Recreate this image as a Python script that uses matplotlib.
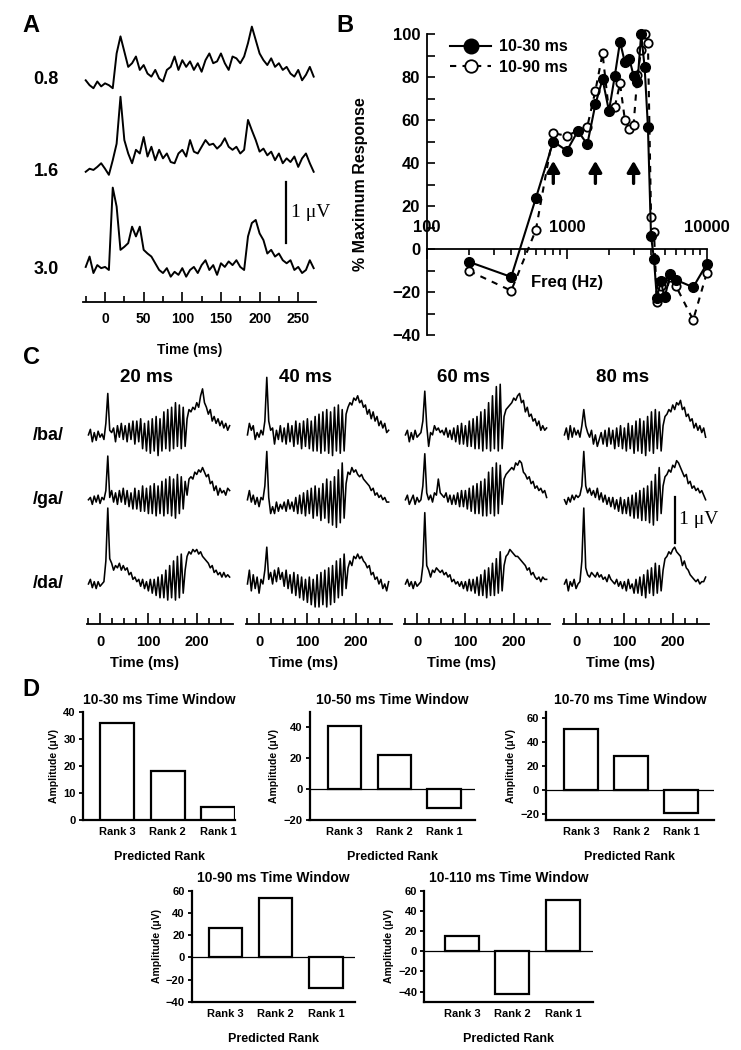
import numpy as np
import matplotlib
matplotlib.use("Agg")
import matplotlib.pyplot as plt
from matplotlib.ticker import MultipleLocator, FixedLocator
from matplotlib.transforms import blended_transform_factory

plt.rcParams['font.family'] = ['Liberation Sans', 'DejaVu Sans']
plt.rcParams['font.weight'] = 'bold'
plt.rcParams['axes.linewidth'] = 1.3

# ---------------- DATA ----------------
# Panel A: averaged responses (uV), 5 ms samples starting at -25 ms
A_T0, A_DT = -25, 5
A_labels = ["0.8", "1.6", "3.0"]
a08 = [0.05, -0.03, -0.08, 0.03, -0.05, 0.0, -0.03, -0.08, 0.49, 0.77,
       0.52, 0.27, 0.33, 0.44, 0.22, 0.30, 0.16, 0.11, 0.22, 0.08,
       0.03, 0.22, 0.27, 0.44, 0.22, 0.38, 0.27, 0.36, 0.22, 0.33,
       0.19, 0.38, 0.49, 0.33, 0.36, 0.49, 0.33, 0.22, 0.44, 0.41,
       0.33, 0.44, 0.66, 0.93, 0.71, 0.49, 0.38, 0.30, 0.41, 0.27,
       0.33, 0.22, 0.27, 0.16, 0.11, 0.22, 0.05, 0.14, 0.27, 0.11]
a16 = [0.0, 0.05, 0.03, 0.08, 0.14, 0.05, -0.05, 0.19, 0.46, 1.23,
       0.52, 0.30, 0.14, 0.36, 0.30, 0.57, 0.25, 0.41, 0.19, 0.36,
       0.22, 0.30, 0.16, 0.14, 0.30, 0.36, 0.25, 0.52, 0.33, 0.30,
       0.41, 0.52, 0.44, 0.46, 0.38, 0.44, 0.55, 0.41, 0.36, 0.41,
       0.30, 0.36, 0.85, 0.68, 0.52, 0.33, 0.38, 0.27, 0.33, 0.19,
       0.30, 0.14, 0.22, 0.16, 0.25, 0.08, 0.22, 0.30, 0.14, 0.0]
a30 = [0.05, 0.22, -0.05, 0.08, 0.03, 0.05, 0.0, 1.35, 1.04, 0.33,
       0.38, 0.44, 0.71, 0.55, 0.71, 0.33, 0.27, 0.22, 0.11, 0.0,
       -0.05, 0.03, -0.11, -0.03, -0.08, 0.03, -0.11, 0.0, 0.05, -0.05,
       0.08, 0.16, 0.0, 0.08, -0.08, 0.11, 0.05, 0.14, 0.08, 0.16,
       0.05, 0.0, 0.55, 0.77, 0.82, 0.60, 0.49, 0.27, 0.33, 0.22,
       0.27, 0.16, 0.11, 0.16, 0.0, 0.05, -0.05, 0.0, 0.16, 0.03]

# Panel B: frequency tuning
freq_hz = [200, 400, 600, 800, 1000, 1200, 1400, 1600, 1800, 2000, 2200, 2400,
           2600, 2800, 3000, 3200, 3400, 3600, 3800, 4000, 4200, 4400, 4700,
           5000, 5500, 6000, 8000, 10000]
resp_10_30 = [-6, -13, 23.6, 50, 45.7, 54.9, 48.7, 67.3, 79, 64.2, 80.3, 96.4,
              86.8, 88.4, 80.6, 77.5, 100, 84.5, 56.7, 6, -4.8, -22.8, -15,
              -22.5, -11.7, -14.3, -17.8, -7]
resp_10_90 = [-10.2, -19.4, 8.8, 53.8, 52.7, 55, 56.9, 73.6, 91, 64, 66, 77,
              60, 56, 57.8, 81, 92.6, 100, 96, 15, 7.7, -24.5, -17, -22,
              -13, -17, -33, -11.3]
arrow_freqs = [800, 1600, 3000]

# Panel C: responses to /ba/ /ga/ /da/ (uV), 4 ms samples starting at -24 ms
C_T0, C_DT = -24, 4
C_titles = ["20 ms", "40 ms", "60 ms", "80 ms"]
C_rows = ["/ba/", "/ga/", "/da/"]
c1_ba = [0.0, 0.12, -0.15, 0.05, -0.12, 0.08, -0.05, 0.02, -0.1, 0.25,
         0.9, 0.1, 0.05, 0.15, -0.15, 0.2, -0.05, 0.25, -0.1, 0.2,
         -0.15, 0.25, -0.1, 0.3, -0.2, 0.3, -0.15, 0.35, -0.3, 0.25,
         -0.35, 0.3, -0.4, 0.35, -0.35, 0.4, -0.45, 0.35, -0.35, 0.5,
         -0.3, 0.55, -0.35, 0.6, -0.3, 0.7, -0.25, 0.65, -0.3, 0.6,
         -0.25, 0.35, 0.55, 0.5, 0.6, 0.55, 0.7, 0.6, 0.85, 1.0,
         0.7, 0.6, 0.45, 0.55, 0.3, 0.4, 0.25, 0.35, 0.2, 0.3,
         0.15, 0.25, 0.1, 0.2]
c1_ga = [0.0, 0.05, -0.1, 0.08, -0.05, 0.1, -0.08, 0.05, 0.0, 0.2,
         0.95, 0.05, 0.2, -0.05, 0.15, -0.1, 0.2, -0.05, 0.25, -0.1,
         0.2, -0.15, 0.15, -0.2, 0.25, -0.2, 0.2, -0.25, 0.3, -0.25,
         0.25, -0.3, 0.3, -0.3, 0.35, -0.35, 0.3, -0.3, 0.4, -0.35,
         0.45, -0.3, 0.5, -0.35, 0.45, -0.4, 0.55, -0.3, 0.5, -0.2,
         0.4, 0.1, 0.45, 0.5, 0.45, 0.6, 0.55, 0.65, 0.6, 0.7,
         0.6, 0.5, 0.55, 0.35, 0.4, 0.2, 0.3, 0.1, 0.25, 0.15,
         0.2, 0.1, 0.25, 0.2]
c1_da = [0.0, 0.1, -0.08, 0.05, -0.1, 0.05, -0.05, 0.0, 0.05, 0.5,
         1.65, 0.55, 0.45, 0.3, 0.4, 0.35, 0.45, 0.3, 0.4, 0.3,
         0.35, 0.2, 0.25, 0.1, 0.15, 0.05, 0.1, -0.05, 0.1, -0.1,
         0.05, -0.15, 0.1, -0.2, 0.1, -0.25, 0.15, -0.3, 0.2, -0.3,
         0.3, -0.35, 0.4, -0.3, 0.5, -0.35, 0.6, -0.3, 0.65, -0.2,
         0.3, 0.6, 0.7, 0.65, 0.75, 0.7, 0.75, 0.65, 0.7, 0.6,
         0.55, 0.5, 0.45, 0.35, 0.4, 0.25, 0.3, 0.2, 0.25, 0.15,
         0.25, 0.15, 0.2, 0.15]
c2_ba = [0.0, 0.25, 0.1, 0.2, -0.1, 0.05, -0.05, 0.1, 0.0, 0.3,
         1.25, 0.3, 0.1, 0.15, -0.2, 0.1, -0.1, 0.2, -0.15, 0.15,
         -0.2, 0.25, -0.15, 0.2, -0.25, 0.3, -0.2, 0.25, -0.3, 0.3,
         -0.25, 0.35, -0.3, 0.3, -0.35, 0.4, -0.35, 0.45, -0.4, 0.5,
         -0.35, 0.55, -0.4, 0.5, -0.45, 0.6, -0.35, 0.65, -0.4, 0.55,
         -0.35, 0.45, 0.6, 0.7, 0.65, 0.8, 0.75, 0.85, 0.7, 0.75,
         0.6, 0.65, 0.45, 0.55, 0.35, 0.5, 0.3, 0.4, 0.2, 0.3,
         0.15, 0.25, 0.05, 0.1]
c2_ga = [0.0, 0.2, -0.05, 0.1, -0.1, 0.05, -0.15, 0.05, 0.0, 0.3,
         1.05, 0.05, -0.3, -0.15, -0.3, -0.05, -0.25, -0.1, -0.2, -0.05,
         -0.25, 0.0, -0.2, -0.05, -0.25, 0.05, -0.3, 0.1, -0.3, 0.15,
         -0.35, 0.2, -0.3, 0.25, -0.4, 0.3, -0.35, 0.25, -0.45, 0.35,
         -0.4, 0.45, -0.5, 0.4, -0.55, 0.5, -0.6, 0.65, -0.5, 0.8,
         -0.4, 0.35, 0.6, 0.55, 0.7, 0.6, 0.65, 0.55, 0.5, 0.55,
         0.45, 0.4, 0.35, 0.3, 0.2, 0.25, 0.1, 0.15, 0.05, 0.1,
         0.0, 0.05, -0.05, -0.05]
c2_da = [0.0, 0.3, -0.15, 0.2, -0.1, 0.15, -0.2, 0.1, 0.0, 0.3,
         0.8, 0.1, 0.25, 0.0, 0.3, 0.05, 0.35, 0.1, 0.25, -0.05,
         0.3, -0.1, 0.2, -0.2, 0.25, -0.25, 0.2, -0.3, 0.15, -0.35,
         0.1, -0.4, 0.15, -0.45, 0.1, -0.5, 0.2, -0.5, 0.25, -0.45,
         0.3, -0.5, 0.35, -0.45, 0.4, -0.4, 0.5, -0.3, 0.55, -0.25,
         0.65, -0.1, 0.35, 0.5, 0.4, 0.6, 0.55, 0.65, 0.55, 0.6,
         0.5, 0.45, 0.35, 0.4, 0.2, 0.25, 0.1, 0.15, 0.0, 0.1,
         -0.1, 0.0, -0.15, 0.05]
c3_ba = [0.0, 0.1, -0.15, 0.05, -0.1, 0.1, -0.05, 0.0, 0.05, 0.3,
         0.95, 0.2, -0.25, 0.05, 0.0, 0.2, 0.1, 0.15, 0.05, 0.1,
         0.0, 0.15, -0.05, 0.1, -0.1, 0.15, -0.15, 0.2, -0.2, 0.25,
         -0.2, 0.2, -0.25, 0.3, -0.25, 0.35, -0.3, 0.4, -0.3, 0.5,
         -0.35, 0.55, -0.3, 0.7, -0.35, 0.85, -0.3, 1.05, -0.35, 1.1,
         -0.3, 0.4, 0.55, 0.6, 0.65, 0.7, 0.8, 0.75, 0.85, 0.9,
         0.7, 0.75, 0.5, 0.6, 0.4, 0.45, 0.3, 0.35, 0.2, 0.3,
         0.1, 0.2, 0.1, 0.15]
c3_ga = [0.0, 0.1, -0.1, 0.0, 0.1, -0.1, 0.05, -0.05, 0.0, 0.3,
         1.0, 0.15, 0.0, 0.1, -0.05, 0.15, 0.1, 0.45, 0.15, 0.1,
         0.05, 0.15, -0.05, 0.1, -0.1, 0.1, -0.1, 0.15, -0.15, 0.2,
         -0.15, 0.2, -0.2, 0.25, -0.25, 0.3, -0.3, 0.35, -0.3, 0.4,
         -0.35, 0.45, -0.35, 0.6, -0.3, 0.7, -0.35, 0.8, -0.3, 0.75,
         -0.1, 0.45, 0.55, 0.6, 0.65, 0.7, 0.65, 0.8, 0.75, 0.85,
         0.8, 0.6, 0.55, 0.45, 0.5, 0.35, 0.4, 0.25, 0.3, 0.2,
         0.25, 0.15, 0.2, 0.05]
c3_da = [0.0, 0.1, -0.05, 0.05, -0.1, 0.05, -0.05, 0.0, 0.05, 0.4,
         1.55, 0.4, 0.3, 0.15, 0.3, 0.25, 0.35, 0.3, 0.25, 0.3,
         0.2, 0.25, 0.15, 0.2, 0.05, 0.1, 0.0, 0.05, -0.05, 0.05,
         -0.1, 0.05, -0.15, 0.1, -0.15, 0.1, -0.2, 0.15, -0.25, 0.2,
         -0.25, 0.3, -0.3, 0.35, -0.25, 0.45, -0.25, 0.55, -0.2, 0.7,
         -0.15, 0.4, 0.6, 0.65, 0.75, 0.7, 0.65, 0.6, 0.6, 0.55,
         0.5, 0.45, 0.4, 0.3, 0.35, 0.2, 0.25, 0.15, 0.1, 0.15,
         0.05, 0.15, 0.1, 0.1]
c4_ba = [0.0, 0.15, -0.1, 0.2, -0.05, 0.15, 0.0, 0.1, -0.05, 0.2,
         0.55, 0.2, 0.05, -0.05, 0.1, -0.2, 0.0, -0.25, -0.1, 0.05,
         -0.2, 0.1, -0.25, 0.15, -0.2, 0.1, -0.3, 0.15, -0.25, 0.2,
         -0.3, 0.15, -0.35, 0.25, -0.3, 0.2, -0.4, 0.3, -0.35, 0.35,
         -0.4, 0.3, -0.45, 0.4, -0.35, 0.5, -0.4, 0.55, -0.3, 0.5,
         -0.35, 0.2, 0.4, 0.45, 0.55, 0.5, 0.65, 0.55, 0.7, 0.65,
         0.75, 0.55, 0.6, 0.4, 0.45, 0.3, 0.35, 0.15, 0.25, 0.1,
         0.2, 0.05, 0.15, -0.05]
c4_ga = [0.0, -0.1, 0.05, -0.05, 0.1, 0.0, 0.1, 0.05, 0.1, 0.3,
         1.05, 0.3, 0.15, 0.25, 0.1, 0.2, 0.05, 0.25, 0.0, 0.15,
         -0.05, 0.1, -0.1, 0.05, -0.15, 0.05, -0.2, 0.0, -0.25, 0.05,
         -0.3, 0.0, -0.3, 0.05, -0.35, 0.1, -0.4, 0.15, -0.4, 0.2,
         -0.45, 0.25, -0.45, 0.3, -0.5, 0.4, -0.55, 0.55, -0.45, 0.7,
         -0.3, 0.3, 0.5, 0.55, 0.65, 0.6, 0.75, 0.7, 0.85, 0.8,
         0.7, 0.6, 0.5, 0.55, 0.35, 0.4, 0.25, 0.3, 0.2, 0.25,
         0.15, 0.2, 0.1, 0.0]
c4_da = [0.0, 0.1, -0.15, 0.05, -0.05, 0.1, -0.1, 0.0, 0.05, 0.5,
         1.65, 0.35, 0.2, 0.15, 0.25, 0.2, 0.15, 0.25, 0.15, 0.2,
         0.1, 0.15, 0.05, 0.2, 0.1, 0.05, 0.0, 0.1, -0.05, 0.05,
         -0.1, 0.05, -0.15, 0.1, -0.1, 0.0, -0.2, 0.1, -0.2, 0.15,
         -0.25, 0.2, -0.3, 0.3, -0.2, 0.35, -0.25, 0.45, -0.2, 0.4,
         -0.15, 0.3, 0.55, 0.6, 0.7, 0.65, 0.75, 0.8, 0.7, 0.65,
         0.6, 0.4, 0.5, 0.35, 0.3, 0.2, 0.15, 0.1, 0.05, 0.1,
         0.0, 0.05, 0.05, 0.15]
C_traces = [[c1_ba, c1_ga, c1_da], [c2_ba, c2_ga, c2_da],
            [c3_ba, c3_ga, c3_da], [c4_ba, c4_ga, c4_da]]

# Panel D: amplitude by predicted rank
D_categories = ["Rank 3", "Rank 2", "Rank 1"]
D_titles = ["10-30 ms Time Window", "10-50 ms Time Window", "10-70 ms Time Window",
            "10-90 ms Time Window", "10-110 ms Time Window"]
d_10_30 = [36, 18, 5]
d_10_50 = [41, 22, -12]
d_10_70 = [51, 28, -19]
d_10_90 = [26, 53, -28]
d_10_110 = [15, -42, 51]

# ---------------- FIGURE ----------------
W, H = 741, 1050
fig = plt.figure(figsize=(W / 100, H / 100), dpi=100)


def rect(x0, y0, x1, y1):
    return [x0 / W, 1 - y1 / H, (x1 - x0) / W, (y1 - y0) / H]


def ftext(x, y, s, **kw):
    fig.text(x / W, 1 - y / H, s, **kw)


SERIF = ['Liberation Serif', 'DejaVu Serif']

# ---- Panel A ----
axA = fig.add_axes(rect(83, 19.3, 316, 302))
A_offsets = [0.0, -1.45, -3.06]
for vals, off in zip([a08, a16, a30], A_offsets):
    t = A_T0 + A_DT * np.arange(len(vals))
    axA.plot(t, np.array(vals) + off, color='k', lw=1.4)
axA.set_xlim(-28.5, 273)
axA.set_ylim(-3.585, 1.05)
for s in ['left', 'right', 'top']:
    axA.spines[s].set_visible(False)
axA.set_yticks([])
axA.xaxis.set_major_locator(FixedLocator([0, 50, 100, 150, 200, 250]))
axA.xaxis.set_minor_locator(FixedLocator([-25, 25, 75, 125, 175, 225]))
axA.tick_params(axis='x', which='major', direction='in', length=7, width=1.2,
                labelsize=10, pad=7)
axA.tick_params(axis='x', which='minor', direction='in', length=4, width=1.2)
for lab in axA.get_xticklabels():
    lab.set_fontweight('bold')
axA.plot([234, 234], [-1.62, -2.62], color='k', lw=1.6)
axA.text(241, -2.12, "1 μV", family=SERIF, fontweight='normal', fontsize=14,
         va='center', ha='left')
ftext(190, 350, "Time (ms)", ha='center', va='center', fontsize=10)
for lab, yy in zip(A_labels, [79, 172, 269]):
    ftext(46, yy, lab, ha='center', va='center', fontsize=13)
ftext(31, 25, "A", ha='center', va='center', fontsize=17)

# ---- Panel B ----
axB = fig.add_axes(rect(427, 34, 706.7, 335))
axB.set_xscale('log')
axB.set_xlim(100, 10000)
axB.set_ylim(-40, 100)
l1, = axB.plot(freq_hz, resp_10_30, '-o', color='k', mfc='k', mec='k', ms=7,
               lw=1.5, clip_on=False, zorder=4, label='10-30 ms')
l2, = axB.plot(freq_hz, resp_10_90, '--o', color='k', mfc='white', mec='k', ms=6,
               mew=1.3, lw=1.5, dashes=(3, 3), clip_on=False, zorder=3,
               label='10-90 ms')
axB.spines['right'].set_visible(False)
axB.spines['top'].set_visible(False)
axB.spines['bottom'].set_position(('data', 0))
axB.yaxis.set_major_locator(MultipleLocator(20))
axB.yaxis.set_minor_locator(MultipleLocator(10))
axB.tick_params(axis='y', which='both', direction='in', length=6, width=1.2,
                labelsize=12, pad=5)
axB.tick_params(axis='x', which='major', direction='out', length=7, width=1.2,
                labelbottom=False)
axB.tick_params(axis='x', which='minor', direction='out', length=4, width=1.2,
                labelbottom=False)
for lab in axB.get_yticklabels():
    lab.set_fontweight('bold')
for xv in [100, 1000, 10000]:
    axB.text(xv, 9.8, str(xv), ha='center', va='center', fontsize=12)
axB.text(1000, -15.7, "Freq (Hz)", ha='center', va='center', fontsize=12)
for fa in arrow_freqs:
    axB.annotate('', xy=(fa, 41), xytext=(fa, 30.5),
                 arrowprops=dict(arrowstyle='-|>,head_length=0.6,head_width=0.35',
                                 color='k', lw=2.4, mutation_scale=11,
                                 shrinkA=0, shrinkB=0))
leg = axB.legend(handles=[l1, l2], loc='upper left', bbox_to_anchor=(0.03, 1.03),
                 frameon=False, fontsize=11.5, markerscale=1.5,
                 handlelength=2.6, handletextpad=0.5, labelspacing=0.35)
for txt in leg.get_texts():
    txt.set_fontweight('bold')
ftext(360, 184, "% Maximum Response", rotation=90, ha='center', va='center',
      fontsize=11.5)
ftext(345, 25, "B", ha='center', va='center', fontsize=17)

# ---- Panel C ----
C_lefts = [87, 246, 404, 563]
C_offsets = [0.0, -1.41, -3.24]
for ci, (x0, title, traces) in enumerate(zip(C_lefts, C_titles, C_traces)):
    ax = fig.add_axes(rect(x0, 370, x0 + 146, 624))
    for vals, off in zip(traces, C_offsets):
        t = C_T0 + C_DT * np.arange(len(vals))
        ax.plot(t, np.array(vals) + off, color='k', lw=1.15)
    ax.set_xlim(-27, 275)
    ax.set_ylim(-4.11, 1.41)
    for s in ['left', 'right', 'top']:
        ax.spines[s].set_visible(False)
    ax.set_yticks([])
    ax.xaxis.set_major_locator(FixedLocator([0, 100, 200]))
    ax.xaxis.set_minor_locator(FixedLocator([-25, 25, 50, 75, 125, 150, 175, 225, 250]))
    ax.tick_params(axis='x', which='major', direction='in', length=8, width=1.2,
                   labelsize=10.5, pad=8)
    ax.tick_params(axis='x', which='minor', direction='in', length=4, width=1.2)
    for lab in ax.get_xticklabels():
        lab.set_fontweight('bold')
    tr = blended_transform_factory(ax.transData, fig.transFigure)
    ax.text(92, 1 - 663 / H, "Time (ms)", transform=tr, ha='center', va='center',
            fontsize=10.5)
    ax.text(97, 1 - 378 / H, title, transform=tr, ha='center', va='center',
            fontsize=13.5)
    if ci == 3:
        ax.plot([204, 204], [-1.34, -2.34], color='k', lw=1.6, clip_on=False)
        ax.text(213, -1.84, "1 μV", family=SERIF, fontweight='normal',
                fontsize=14, va='center', ha='left', clip_on=False)
for lab, yy in zip(C_rows, [435, 500, 583]):
    ftext(48, yy, lab, ha='center', va='center', fontsize=13)
ftext(31, 357, "C", ha='center', va='center', fontsize=17)

# ---- Panel D ----
D_specs = [
    (d_10_30, (82.7, 712, 235.3, 820), (0, 40), [0, 10, 20, 30, 40], (-0.68, 2.34)),
    (d_10_50, (309.5, 712, 475, 820), (-20, 50), [-20, 0, 20, 40], (-0.70, 2.62)),
    (d_10_70, (546, 712, 713.6, 820), (-25, 65), [-20, 0, 20, 40, 60], (-0.70, 2.65)),
    (d_10_90, (191.7, 890.7, 355, 1001.7), (-40, 60), [-40, -20, 0, 20, 40, 60], (-0.67, 2.58)),
    (d_10_110, (424, 890.7, 592.7, 1001.7), (-50, 60), [-40, -20, 0, 20, 40, 60], (-0.75, 2.59)),
]
for (vals, r, yl, yt, xl), title in zip(D_specs, D_titles):
    ax = fig.add_axes(rect(*r))
    x = np.arange(len(D_categories))
    ax.bar(x, vals, width=0.67, facecolor='white', edgecolor='k', lw=1.6, zorder=3)
    if yl[0] < 0:
        ax.axhline(0, color='k', lw=0.9, zorder=2)
    ax.set_ylim(*yl)
    ax.set_xlim(*xl)
    ax.set_yticks(yt)
    ax.set_xticks(x)
    ax.set_xticklabels(D_categories)
    ax.spines['right'].set_visible(False)
    ax.spines['top'].set_visible(False)
    ax.spines['left'].set_linewidth(1.6)
    ax.spines['bottom'].set_linewidth(1.6)
    ax.tick_params(axis='x', length=0, labelsize=8, pad=5)
    ax.tick_params(axis='y', direction='out', length=3, width=1.3, labelsize=8, pad=2)
    for lab in ax.get_xticklabels() + ax.get_yticklabels():
        lab.set_fontweight('bold')
    ax.set_title(title, fontsize=10, fontweight='bold', pad=6)
    ax.set_ylabel("Amplitude (μV)", fontsize=7.5, fontweight='bold', labelpad=3)
    ax.set_xlabel("Predicted Rank", fontsize=9, fontweight='bold', labelpad=10)
ftext(31, 690, "D", ha='center', va='center', fontsize=17)

fig.savefig("out.png", dpi=100)
